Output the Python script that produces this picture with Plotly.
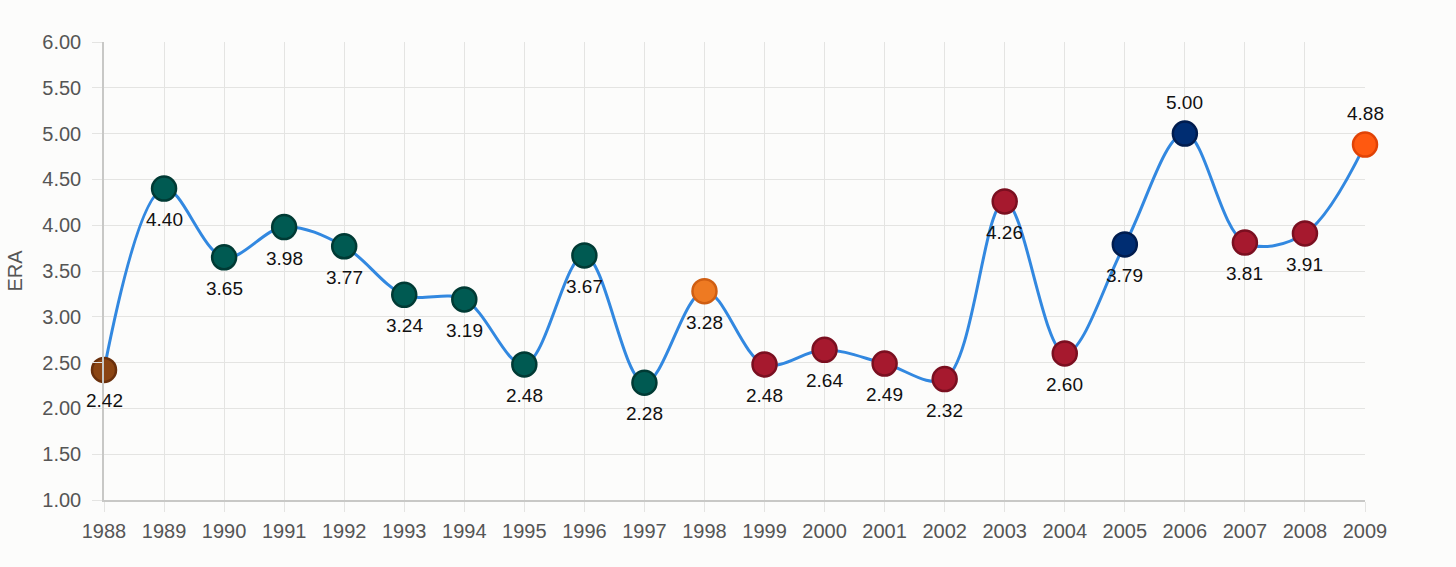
import plotly.graph_objects as go

years = list(range(1988, 2010))
era = [2.42, 4.40, 3.65, 3.98, 3.77, 3.24, 3.19, 2.48, 3.67, 2.28, 3.28,
       2.48, 2.64, 2.49, 2.32, 4.26, 2.60, 3.79, 5.00, 3.81, 3.91, 4.88]
y_ticks = [1.0, 1.5, 2.0, 2.5, 3.0, 3.5, 4.0, 4.5, 5.0, 5.5, 6.0]

fill_colors = ["#8B4513"] + ["#005A52"] * 9 + ["#EE7A22"] + ["#A6192E"] * 4 + \
              ["#A6192E"] * 2 + ["#002D72"] * 2 + ["#A6192E"] * 2 + ["#FF5910"]
line_colors = ["#6A300C"] + ["#003A34"] * 9 + ["#CF5E12"] + ["#7A0F20"] * 4 + \
              ["#7A0F20"] * 2 + ["#001C4E"] * 2 + ["#7A0F20"] * 2 + ["#E04306"]

FONT = "Liberation Sans, Arial, sans-serif"
BG = "#FCFCFB"

fig = go.Figure()
fig.add_trace(go.Scatter(
    x=years, y=era, mode="lines+markers",
    line=dict(color="#3288E0", width=3, shape="spline", smoothing=1.0),
    marker=dict(size=24, color=fill_colors, line=dict(color=line_colors, width=2.5)),
    cliponaxis=False, hoverinfo="x+y",
))

for yr, v in zip(years, era):
    above = v >= 4.8
    fig.add_annotation(x=yr, y=v, text=f"{v:.2f}", showarrow=False,
                       yshift=31 if above else -31,
                       font=dict(family=FONT, size=19, color="#111111"))

grid = "#E4E4E2"
fig.update_layout(
    width=1456, height=567,
    margin=dict(l=104, r=91, t=42, b=67),
    paper_bgcolor=BG, plot_bgcolor=BG,
    showlegend=False,
    font=dict(family=FONT, size=20, color="#555555"),
)
fig.update_xaxes(
    range=[1988, 2009], tickvals=years, ticktext=[str(y) for y in years],
    showgrid=True, gridcolor=grid, gridwidth=1, zeroline=False,
    showline=True, linecolor="#C8C8C6", linewidth=1.5,
    ticks="outside", ticklen=10, tickcolor=grid, tickwidth=1,
    ticklabelstandoff=2,
    tickfont=dict(size=20, color="#555555"),
)
fig.update_yaxes(
    range=[1, 6], tickvals=y_ticks, ticktext=[f"{t:.2f}" for t in y_ticks],
    showgrid=True, gridcolor=grid, gridwidth=1, zeroline=False,
    showline=True, linecolor="#C8C8C6", linewidth=1.5,
    ticks="outside", ticklen=10, tickcolor=grid, tickwidth=1,
    ticklabelstandoff=7,
    tickfont=dict(size=20, color="#555555"),
    title=dict(text="ERA", font=dict(size=20, color="#555555"), standoff=14),
)

fig.write_html(
    "out.html",
    config={"displayModeBar": False},
    post_script="document.body.style.margin='0';document.body.style.background='%s';" % BG,
)
